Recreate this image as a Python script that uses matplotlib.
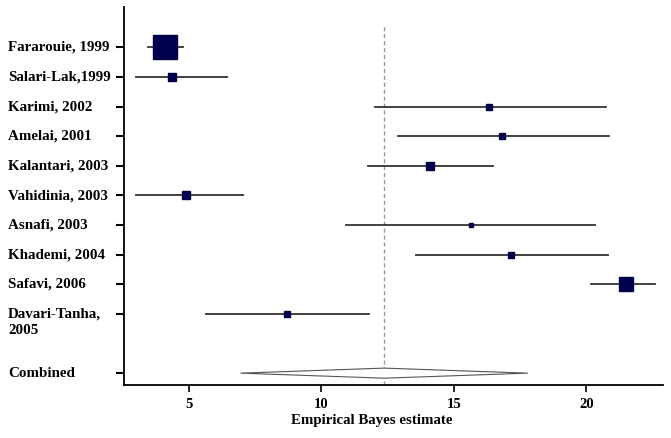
import matplotlib.pyplot as plt
from matplotlib.patches import Polygon
import numpy as np

# study data
studies = ['Fararouie, 1999', 'Salari-Lak,1999', 'Karimi, 2002', 'Amelai, 2001',
           'Kalantari, 2003', 'Vahidinia, 2003', 'Asnafi, 2003', 'Khademi, 2004',
           'Safavi, 2006', 'Davari-Tanha,\n2005']
estimate = [4.09, 4.38, 16.33, 16.84, 14.09, 4.89, 15.64, 17.18, 21.49, 8.69]
ci_low = [3.45, 3.00, 12.02, 12.90, 11.77, 3.00, 10.95, 13.57, 20.17, 5.63]
ci_high = [4.77, 6.42, 20.76, 20.86, 16.48, 7.05, 20.35, 20.82, 22.58, 11.80]
weight = [24, 8, 5, 5, 7, 7, 4, 5, 14, 5]  # marker size in px

combined_label = 'Combined'
combined_est = 12.37
combined_low = 6.95
combined_high = 17.80

xticks = [5, 10, 15, 20]

plt.rcParams['font.family'] = ['Liberation Serif', 'DejaVu Serif']
plt.rcParams['font.weight'] = 'bold'

fig = plt.figure(figsize=(6.71, 4.38), dpi=100)
ax = fig.add_axes([124/671, 1-385/438, (663-124)/671, (385-7)/438])

ypos = np.arange(1, len(studies) + 1)
y_comb = len(studies) + 2

# reference line
ax.plot([combined_est, combined_est], [y_comb + 0.4, 0.25], color='#999999',
        linestyle=(0, (3, 2)), linewidth=1, zorder=1)

for i in range(len(studies)):
    ax.plot([ci_low[i], ci_high[i]], [ypos[i], ypos[i]], color='#333333', linewidth=1.3, zorder=2)
    ax.plot(estimate[i], ypos[i], marker='s', markersize=weight[i] * 0.74,
            color='#000050', markeredgecolor='#000040', zorder=3)

diamond = Polygon([[combined_low, y_comb], [combined_est, y_comb - 0.17],
                   [combined_high, y_comb], [combined_est, y_comb + 0.17]],
                  closed=True, facecolor='white', edgecolor='#555555', linewidth=0.8, zorder=3)
ax.add_patch(diamond)

ax.set_xlim(2.55, 22.9)
ax.set_ylim(y_comb + 0.4, 1 - 1.36)

ax.spines['top'].set_visible(False)
ax.spines['right'].set_visible(False)
ax.spines['left'].set_linewidth(1.3)
ax.spines['bottom'].set_linewidth(1.3)

ax.set_xticks(xticks)
ax.set_xticklabels([str(x) for x in xticks], fontsize=10.5, fontweight='bold')
ax.tick_params(axis='x', length=5, width=1.2, pad=4)

ax.set_yticks(list(ypos) + [y_comb])
ax.set_yticklabels([])
ax.tick_params(axis='y', length=6, width=1.5)

all_labels = studies + [combined_label]
all_y = list(ypos) + [y_comb]
for lab, y in zip(all_labels, all_y):
    ax.annotate(lab, xy=(8/671, y), xycoords=(fig.transFigure, ax.transData),
                xytext=(0, 4.6), textcoords='offset points', va='top', ha='left',
                fontsize=10.8, fontweight='bold', linespacing=1.3)

ax.set_xlabel('Empirical Bayes estimate', fontsize=10.7, fontweight='bold', labelpad=5)
ax.xaxis.set_label_coords((372-124)/(663-124), -0.078)

fig.savefig('out.png', dpi=100)
